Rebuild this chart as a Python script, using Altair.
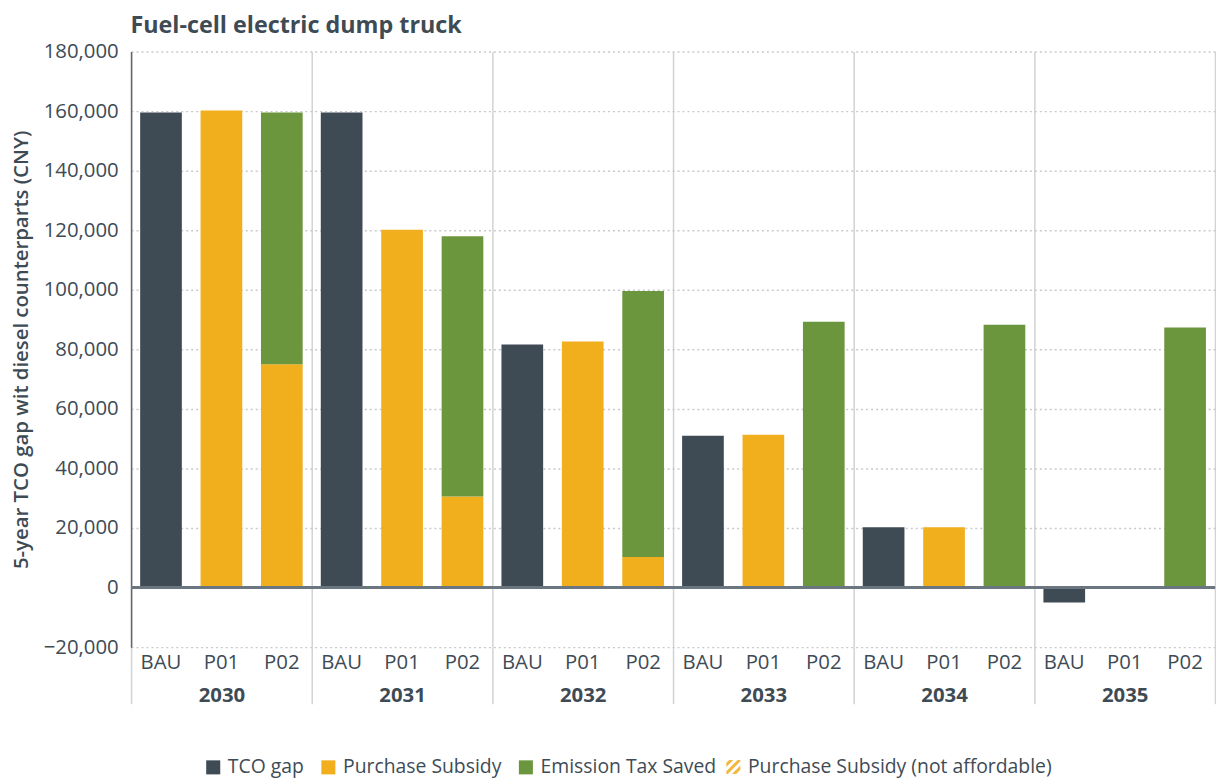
import altair as alt
import pandas as pd

years = ["2030", "2031", "2032", "2033", "2034", "2035"]
scenarios = ["BAU", "P01", "P02"]
categories = ["TCO gap", "Purchase Subsidy", "Emission Tax Saved"]
cat_colors = ["#3e4b55", "#f1ae1d", "#6c963e"]
extra_category = ["Purchase Subsidy (not affordable)"]
extra_color = ["#f3b83e"]

bau_tco_gap = [159500, 159500, 81600, 51000, 20300, -5000]
p01_subsidy = [160200, 120200, 82600, 51300, 20300, 0]
p02_subsidy = [75000, 30600, 10300, 0, 0, 0]
p02_tax_saved = [84500, 87400, 89300, 89300, 88300, 87300]

rows = []
for i, yr in enumerate(years):
    if bau_tco_gap[i] != 0:
        rows.append({"year": yr, "scenario": "BAU", "category": "TCO gap", "value": bau_tco_gap[i], "ord": 0})
    if p01_subsidy[i] != 0:
        rows.append({"year": yr, "scenario": "P01", "category": "Purchase Subsidy", "value": p01_subsidy[i], "ord": 0})
    if p02_subsidy[i] != 0:
        rows.append({"year": yr, "scenario": "P02", "category": "Purchase Subsidy", "value": p02_subsidy[i], "ord": 0})
    if p02_tax_saved[i] != 0:
        rows.append({"year": yr, "scenario": "P02", "category": "Emission Tax Saved", "value": p02_tax_saved[i], "ord": 1})
df = pd.DataFrame(rows)

labels_df = pd.DataFrame([{"year": y, "scenario": s} for y in years for s in scenarios])
# legend-only series (no affordable-limit bars appear in this chart)
extra_df = pd.DataFrame([{"year": years[-1], "scenario": "P01", "value": 0, "note": extra_category[0]}])

TXT = "#3e4b55"
FONT = "Open Sans"
FS = 20.5
LFS = 19.5
W, H = 1092, 600

HATCH = ("M-0.6,-1L0,-1L-1,0L-1,-0.6Z"
         "M0.6,-1L1,-1L1,-0.8L-0.8,1L-1,1L-1,0.6Z"
         "M1,-0.2L1,0.4L0.4,1L-0.2,1Z")

x_scale = alt.Scale(domain=years, paddingInner=0, paddingOuter=0)
xo_scale = alt.Scale(domain=scenarios, paddingInner=0.31, paddingOuter=0.15)

bars = alt.Chart(df).mark_bar().encode(
    x=alt.X("year:N", sort=years, scale=x_scale, title=None),
    xOffset=alt.XOffset("scenario:N", sort=scenarios, scale=xo_scale),
    y=alt.Y("sum(value):Q", stack="zero",
            scale=alt.Scale(domain=[-20000, 180000], nice=False),
            title="5-year TCO gap wit diesel counterparts (CNY)"),
    color=alt.Color("category:N",
                    scale=alt.Scale(domain=categories, range=cat_colors),
                    legend=alt.Legend(title=None, orient="none", direction="horizontal",
                                      legendX=73, legendY=711,
                                      symbolType="square", symbolSize=200, symbolStrokeWidth=0,
                                      labelFontSize=LFS, labelColor=TXT, labelFont=FONT,
                                      labelLimit=500, columnPadding=14, labelOffset=5)),
    order=alt.Order("ord:Q", sort="ascending"),
)

dummy = alt.Chart(extra_df).mark_point(filled=True, opacity=0).encode(
    x=alt.X("year:N", sort=years),
    xOffset=alt.XOffset("scenario:N", sort=scenarios),
    y=alt.Y("value:Q"),
    fill=alt.Fill("note:N", scale=alt.Scale(domain=extra_category, range=extra_color),
                  legend=alt.Legend(title=None, orient="none", direction="horizontal",
                                    legendX=597, legendY=711, symbolType=HATCH,
                                    symbolSize=200, symbolStrokeWidth=0, symbolOpacity=1,
                                    labelFontSize=LFS, labelColor=TXT, labelFont=FONT,
                                    labelLimit=500, labelOffset=5)),
)

zero = alt.Chart(df).mark_rule(color="#6b7680", strokeWidth=2).encode(y=alt.datum(0))

scen_labels = alt.Chart(labels_df).mark_text(
    baseline="top", fontSize=FS, color=TXT, font=FONT
).encode(
    x=alt.X("year:N", sort=years),
    xOffset=alt.XOffset("scenario:N", sort=scenarios),
    y=alt.value(H + 6),
    text="scenario:N",
)

chart = alt.layer(bars, zero, scen_labels, dummy).resolve_legend(fill="independent").properties(
    width=W, height=H,
    title=alt.TitleParams("Fuel-cell electric dump truck", anchor="start", fontSize=23.5,
                          fontWeight="bold", color=TXT, font=FONT, offset=4, dx=120),
    padding={"left": 3, "top": 3, "right": 0, "bottom": 5},
).configure_view(stroke=None).configure_axisX(
    labelAngle=0, domain=False, tickBand="extent",
    ticks=True, tickSize=57, tickColor="#d2d2d2", tickWidth=1.5,
    grid=True, gridColor="#d2d2d2", gridWidth=1.5,
    labelFontSize=FS, labelFontWeight="bold", labelColor=TXT,
    labelFont=FONT, labelPadding=-18,
).configure_axisY(
    tickCount=10,
    labelExpr="format(datum.value, ',')",
    grid=True, gridDash=[2, 3], gridColor="#c9c9c9", gridWidth=1.5,
    domain=True, domainColor="#5c6770", domainWidth=1.5,
    ticks=False, labelFontSize=FS, labelColor=TXT, labelPadding=13,
    labelFont=FONT, titleFontSize=20.5, titleFontWeight=600,
    titleColor=TXT, titleFont=FONT, titlePadding=12,
)

chart.save("out.html", embed_options={"renderer": "svg", "actions": False})
